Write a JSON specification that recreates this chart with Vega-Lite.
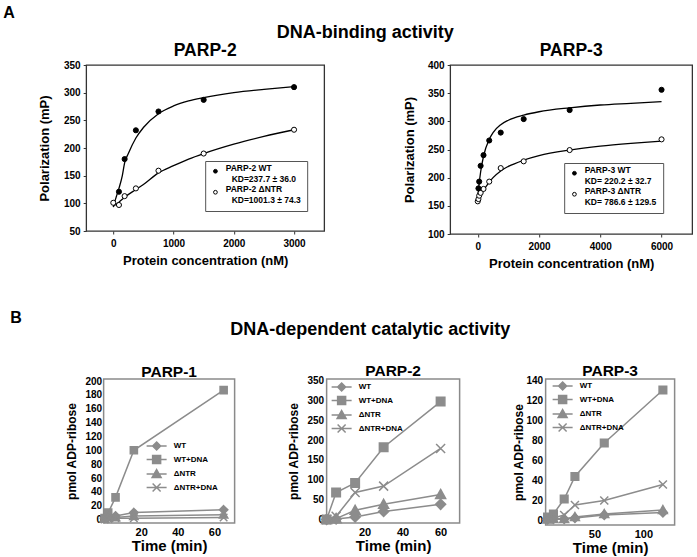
{
 "$schema": "https://vega.github.io/schema/vega-lite/v6.json",
 "padding": {"left": 3, "top": 4, "right": 0, "bottom": 0},
 "background": "white",
 "config": {
  "font": "Liberation Sans",
  "view": {"stroke": "#8a8a8a", "strokeWidth": 1.5},
  "axis": {"grid": false, "ticks": false, "domain": false, "labelOverlap": false, "labelFontWeight": "bold", "labelColor": "black", "titleFontWeight": "bold", "titleColor": "black", "labelFont": "Liberation Sans", "titleFont": "Liberation Sans"},
  "title": {"font": "Liberation Sans", "fontWeight": "bold", "color": "black"},
  "legend": {"labelFont": "Liberation Sans", "labelFontWeight": "bold", "labelColor": "black"}
 },
 "datasets": {
  "p2_pts": [
   {"conc": 0, "mP": 101, "form": "ΔNTR"},
   {"conc": 94, "mP": 97, "form": "ΔNTR"},
   {"conc": 188, "mP": 113, "form": "ΔNTR"},
   {"conc": 375, "mP": 127, "form": "ΔNTR"},
   {"conc": 750, "mP": 159, "form": "ΔNTR"},
   {"conc": 1500, "mP": 190, "form": "ΔNTR"},
   {"conc": 3000, "mP": 233, "form": "ΔNTR"},
   {"conc": 94, "mP": 121, "form": "WT"},
   {"conc": 188, "mP": 180, "form": "WT"},
   {"conc": 375, "mP": 232, "form": "WT"},
   {"conc": 750, "mP": 266, "form": "WT"},
   {"conc": 1500, "mP": 287, "form": "WT"},
   {"conc": 3000, "mP": 310, "form": "WT"}
  ],
  "p2_fit": [
   {"conc": 0, "mP": 93, "form": "WT"},
   {"conc": 25, "mP": 103, "form": "WT"},
   {"conc": 50, "mP": 112, "form": "WT"},
   {"conc": 94, "mP": 127, "form": "WT"},
   {"conc": 150, "mP": 150, "form": "WT"},
   {"conc": 188, "mP": 173, "form": "WT"},
   {"conc": 250, "mP": 190, "form": "WT"},
   {"conc": 375, "mP": 218, "form": "WT"},
   {"conc": 500, "mP": 237, "form": "WT"},
   {"conc": 750, "mP": 262, "form": "WT"},
   {"conc": 1000, "mP": 276, "form": "WT"},
   {"conc": 1250, "mP": 285, "form": "WT"},
   {"conc": 1500, "mP": 291, "form": "WT"},
   {"conc": 2000, "mP": 300, "form": "WT"},
   {"conc": 2500, "mP": 306, "form": "WT"},
   {"conc": 3000, "mP": 311, "form": "WT"},
   {"conc": 0, "mP": 95, "form": "ΔNTR"},
   {"conc": 94, "mP": 102, "form": "ΔNTR"},
   {"conc": 188, "mP": 111, "form": "ΔNTR"},
   {"conc": 375, "mP": 125, "form": "ΔNTR"},
   {"conc": 500, "mP": 134, "form": "ΔNTR"},
   {"conc": 750, "mP": 155, "form": "ΔNTR"},
   {"conc": 1000, "mP": 168, "form": "ΔNTR"},
   {"conc": 1250, "mP": 180, "form": "ΔNTR"},
   {"conc": 1500, "mP": 190, "form": "ΔNTR"},
   {"conc": 2000, "mP": 207, "form": "ΔNTR"},
   {"conc": 2500, "mP": 221, "form": "ΔNTR"},
   {"conc": 3000, "mP": 233, "form": "ΔNTR"}
  ],
  "p3_pts": [
   {"conc": 0, "mP": 158, "form": "ΔNTR"},
   {"conc": 23, "mP": 162, "form": "ΔNTR"},
   {"conc": 47, "mP": 168, "form": "ΔNTR"},
   {"conc": 94, "mP": 173, "form": "ΔNTR"},
   {"conc": 188, "mP": 180, "form": "ΔNTR"},
   {"conc": 375, "mP": 193, "form": "ΔNTR"},
   {"conc": 750, "mP": 217, "form": "ΔNTR"},
   {"conc": 1500, "mP": 229, "form": "ΔNTR"},
   {"conc": 3000, "mP": 249, "form": "ΔNTR"},
   {"conc": 6000, "mP": 268, "form": "ΔNTR"},
   {"conc": 23, "mP": 181, "form": "WT"},
   {"conc": 47, "mP": 193, "form": "WT"},
   {"conc": 94, "mP": 221, "form": "WT"},
   {"conc": 188, "mP": 240, "form": "WT"},
   {"conc": 375, "mP": 266, "form": "WT"},
   {"conc": 750, "mP": 280, "form": "WT"},
   {"conc": 1500, "mP": 304, "form": "WT"},
   {"conc": 3000, "mP": 320, "form": "WT"},
   {"conc": 6000, "mP": 356, "form": "WT"}
  ],
  "p3_fit": [
   {"conc": 0, "mP": 165, "form": "WT"},
   {"conc": 23, "mP": 178, "form": "WT"},
   {"conc": 47, "mP": 190, "form": "WT"},
   {"conc": 94, "mP": 210, "form": "WT"},
   {"conc": 188, "mP": 238, "form": "WT"},
   {"conc": 375, "mP": 268, "form": "WT"},
   {"conc": 500, "mP": 280, "form": "WT"},
   {"conc": 750, "mP": 294, "form": "WT"},
   {"conc": 1000, "mP": 302, "form": "WT"},
   {"conc": 1500, "mP": 311, "form": "WT"},
   {"conc": 2000, "mP": 317, "form": "WT"},
   {"conc": 3000, "mP": 324, "form": "WT"},
   {"conc": 4000, "mP": 329, "form": "WT"},
   {"conc": 5000, "mP": 332, "form": "WT"},
   {"conc": 6000, "mP": 335, "form": "WT"},
   {"conc": 0, "mP": 157, "form": "ΔNTR"},
   {"conc": 47, "mP": 163, "form": "ΔNTR"},
   {"conc": 94, "mP": 168, "form": "ΔNTR"},
   {"conc": 188, "mP": 177, "form": "ΔNTR"},
   {"conc": 375, "mP": 192, "form": "ΔNTR"},
   {"conc": 500, "mP": 200, "form": "ΔNTR"},
   {"conc": 750, "mP": 212, "form": "ΔNTR"},
   {"conc": 1000, "mP": 220, "form": "ΔNTR"},
   {"conc": 1500, "mP": 231, "form": "ΔNTR"},
   {"conc": 2000, "mP": 239, "form": "ΔNTR"},
   {"conc": 3000, "mP": 249, "form": "ΔNTR"},
   {"conc": 4000, "mP": 256, "form": "ΔNTR"},
   {"conc": 5000, "mP": 261, "form": "ΔNTR"},
   {"conc": 6000, "mP": 265, "form": "ΔNTR"}
  ],
  "b1": [
   {"time": 0, "pmol": 2, "cond": "WT"},
   {"time": 2, "pmol": 6, "cond": "WT"},
   {"time": 6, "pmol": 5, "cond": "WT"},
   {"time": 16, "pmol": 10, "cond": "WT"},
   {"time": 65, "pmol": 14, "cond": "WT"},
   {"time": 0, "pmol": 2, "cond": "WT+DNA"},
   {"time": 2, "pmol": 10, "cond": "WT+DNA"},
   {"time": 6, "pmol": 32, "cond": "WT+DNA"},
   {"time": 16, "pmol": 100, "cond": "WT+DNA"},
   {"time": 65, "pmol": 187, "cond": "WT+DNA"},
   {"time": 0, "pmol": 1, "cond": "ΔNTR"},
   {"time": 2, "pmol": 3, "cond": "ΔNTR"},
   {"time": 6, "pmol": 3, "cond": "ΔNTR"},
   {"time": 16, "pmol": 5, "cond": "ΔNTR"},
   {"time": 65, "pmol": 7, "cond": "ΔNTR"},
   {"time": 0, "pmol": 0, "cond": "ΔNTR+DNA"},
   {"time": 2, "pmol": 1, "cond": "ΔNTR+DNA"},
   {"time": 6, "pmol": 2, "cond": "ΔNTR+DNA"},
   {"time": 16, "pmol": 2, "cond": "ΔNTR+DNA"},
   {"time": 65, "pmol": 3, "cond": "ΔNTR+DNA"}
  ],
  "b2": [
   {"time": 0, "pmol": 0, "cond": "WT"},
   {"time": 5, "pmol": 1, "cond": "WT"},
   {"time": 15, "pmol": 6, "cond": "WT"},
   {"time": 30, "pmol": 20, "cond": "WT"},
   {"time": 60, "pmol": 38, "cond": "WT"},
   {"time": 0, "pmol": 0, "cond": "WT+DNA"},
   {"time": 5, "pmol": 68, "cond": "WT+DNA"},
   {"time": 15, "pmol": 92, "cond": "WT+DNA"},
   {"time": 30, "pmol": 182, "cond": "WT+DNA"},
   {"time": 60, "pmol": 297, "cond": "WT+DNA"},
   {"time": 0, "pmol": 0, "cond": "ΔNTR"},
   {"time": 5, "pmol": 2, "cond": "ΔNTR"},
   {"time": 15, "pmol": 23, "cond": "ΔNTR"},
   {"time": 30, "pmol": 38, "cond": "ΔNTR"},
   {"time": 60, "pmol": 63, "cond": "ΔNTR"},
   {"time": 0, "pmol": 0, "cond": "ΔNTR+DNA"},
   {"time": 5, "pmol": 8, "cond": "ΔNTR+DNA"},
   {"time": 15, "pmol": 68, "cond": "ΔNTR+DNA"},
   {"time": 30, "pmol": 84, "cond": "ΔNTR+DNA"},
   {"time": 60, "pmol": 179, "cond": "ΔNTR+DNA"}
  ],
  "b3": [
   {"time": 2, "pmol": 0.5, "cond": "WT"},
   {"time": 8, "pmol": 1, "cond": "WT"},
   {"time": 19, "pmol": 1, "cond": "WT"},
   {"time": 30, "pmol": 2, "cond": "WT"},
   {"time": 60, "pmol": 5, "cond": "WT"},
   {"time": 120, "pmol": 7.5, "cond": "WT"},
   {"time": 2, "pmol": 3, "cond": "WT+DNA"},
   {"time": 8, "pmol": 6, "cond": "WT+DNA"},
   {"time": 19, "pmol": 21, "cond": "WT+DNA"},
   {"time": 30, "pmol": 43.5, "cond": "WT+DNA"},
   {"time": 60, "pmol": 77, "cond": "WT+DNA"},
   {"time": 120, "pmol": 130, "cond": "WT+DNA"},
   {"time": 2, "pmol": 0.5, "cond": "ΔNTR"},
   {"time": 8, "pmol": 1, "cond": "ΔNTR"},
   {"time": 19, "pmol": 1, "cond": "ΔNTR"},
   {"time": 30, "pmol": 3, "cond": "ΔNTR"},
   {"time": 60, "pmol": 6, "cond": "ΔNTR"},
   {"time": 120, "pmol": 10, "cond": "ΔNTR"},
   {"time": 2, "pmol": 1, "cond": "ΔNTR+DNA"},
   {"time": 8, "pmol": 2, "cond": "ΔNTR+DNA"},
   {"time": 19, "pmol": 5, "cond": "ΔNTR+DNA"},
   {"time": 30, "pmol": 15, "cond": "ΔNTR+DNA"},
   {"time": 60, "pmol": 19.5, "cond": "ΔNTR+DNA"},
   {"time": 120, "pmol": 35.5, "cond": "ΔNTR+DNA"}
  ]
 },
 "spacing": 38,
 "center": true,
 "vconcat": [
  {
   "title": {"text": "A", "anchor": "start", "fontSize": 16, "dx": -34.5, "offset": 3},
   "vconcat": [
    {
     "title": {"text": "DNA-binding activity", "anchor": "middle", "fontSize": 18, "offset": -1},
     "spacing": 77,
     "resolve": {"scale": {"x": "independent", "y": "independent", "fill": "independent"}, "legend": {"fill": "independent"}},
     "hconcat": [
      {
       "width": 238, "height": 166,
       "view": {"stroke": "#333333", "strokeWidth": 1.3},
       "title": {"text": "PARP-2", "fontSize": 17.5, "offset": 1},
       "encoding": {
        "x": {"field": "conc", "type": "quantitative", "scale": {"domain": [-450, 3500], "nice": false, "zero": false}, "axis": {"values": [0, 1000, 2000, 3000], "format": "d", "labelOverlap": false, "ticks": true, "tickSize": 3, "tickColor": "#333333", "title": "Protein concentration (nM)", "labelFontSize": 10, "titleFontSize": 13, "labelPadding": 4, "titlePadding": 6}},
        "y": {"field": "mP", "type": "quantitative", "scale": {"domain": [50, 350], "nice": false, "zero": false}, "axis": {"values": [50, 100, 150, 200, 250, 300, 350], "labelOverlap": false, "ticks": true, "tickSize": 3, "tickColor": "#333333", "title": "Polarization (mP)", "labelFontSize": 10, "titleFontSize": 13, "labelPadding": 3, "titlePadding": 12}}
       },
       "layer": [
        {
         "data": {"name": "p2_fit"},
         "mark": {"type": "line", "color": "black", "strokeWidth": 1.3, "interpolate": "monotone"},
         "encoding": {"detail": {"field": "form", "type": "nominal"}}
        },
        {
         "data": {"name": "p2_pts"},
         "mark": {"type": "point", "shape": "circle", "filled": true, "stroke": "black", "strokeWidth": 1, "size": 26, "opacity": 1},
         "encoding": {
          "fill": {"field": "form", "type": "nominal", "scale": {"domain": ["WT", "ΔNTR"], "range": ["black", "white"]},
           "legend": {"title": null, "orient": "none", "legendX": 119, "legendY": 96, "padding": 6, "strokeColor": "#555555", "fillColor": "white", "symbolSize": 14, "symbolStrokeColor": "black", "symbolStrokeWidth": 1, "labelFontSize": 8.5, "labelOffset": 6, "rowPadding": 1, "labelBaseline": "alphabetic",
            "labelExpr": "datum.label == 'WT' ? ['PARP-2 WT', '\u200b\u2002\u2009KD=237.7 ± 36.0'] : ['PARP-2 ΔNTR', '\u200b\u2002\u2009KD=1001.3 ± 74.3']"}}
         }
        }
       ]
      },
      {
       "width": 242, "height": 169,
       "view": {"stroke": "#333333", "strokeWidth": 1.3},
       "title": {"text": "PARP-3", "fontSize": 17.5, "offset": 1},
       "encoding": {
        "x": {"field": "conc", "type": "quantitative", "scale": {"domain": [-900, 7000], "nice": false, "zero": false}, "axis": {"values": [0, 2000, 4000, 6000], "format": "d", "labelOverlap": false, "ticks": true, "tickSize": 3, "tickColor": "#333333", "title": "Protein concentration (nM)", "labelFontSize": 10, "titleFontSize": 13, "labelPadding": 4, "titlePadding": 6}},
        "y": {"field": "mP", "type": "quantitative", "scale": {"domain": [100, 400], "nice": false, "zero": false}, "axis": {"values": [100, 150, 200, 250, 300, 350, 400], "labelOverlap": false, "ticks": true, "tickSize": 3, "tickColor": "#333333", "title": "Polarization (mP)", "labelFontSize": 10, "titleFontSize": 13, "labelPadding": 3, "titlePadding": 11}}
       },
       "layer": [
        {
         "data": {"name": "p3_fit"},
         "mark": {"type": "line", "color": "black", "strokeWidth": 1.3, "interpolate": "monotone"},
         "encoding": {"detail": {"field": "form", "type": "nominal"}}
        },
        {
         "data": {"name": "p3_pts"},
         "mark": {"type": "point", "shape": "circle", "filled": true, "stroke": "black", "strokeWidth": 1, "size": 26, "opacity": 1},
         "encoding": {
          "fill": {"field": "form", "type": "nominal", "scale": {"domain": ["WT", "ΔNTR"], "range": ["black", "white"]},
           "legend": {"title": null, "orient": "none", "legendX": 114, "legendY": 98, "padding": 6, "strokeColor": "#555555", "fillColor": "white", "symbolSize": 14, "symbolStrokeColor": "black", "symbolStrokeWidth": 1, "labelFontSize": 8.5, "labelOffset": 6, "rowPadding": 1, "labelBaseline": "alphabetic",
            "labelExpr": "datum.label == 'WT' ? ['PARP-3 WT', 'KD= 220.2 ± 32.7'] : ['PARP-3 ΔNTR', 'KD= 786.6 ± 129.5']"}}
         }
        }
       ]
      }
     ]
    }
   ]
  },
  {
   "title": {"text": "B", "anchor": "start", "fontSize": 16, "dx": -55, "dy": 5, "offset": 0},
   "vconcat": [
    {
     "title": {"text": "DNA-dependent catalytic activity", "anchor": "middle", "fontSize": 18, "offset": 24},
     "spacing": 51,
     "resolve": {"scale": {"x": "independent", "y": "independent", "shape": "independent"}, "legend": {"shape": "independent"}},
     "hconcat": [
      {
       "width": 131, "height": 144,
       "title": {"text": "PARP-1", "fontSize": 15.5, "offset": -4},
       "data": {"name": "b1"},
       "resolve": {"scale": {"shape": "independent"}, "legend": {"shape": "independent"}},
       "encoding": {
        "x": {"field": "time", "type": "quantitative", "scale": {"domain": [-0.5, 71], "nice": false, "zero": false}, "axis": {"values": [20, 40, 60], "title": "Time (min)", "labelFontSize": 11, "titleFontSize": 15, "labelPadding": 3, "titlePadding": 1}},
        "y": {"field": "pmol", "type": "quantitative", "scale": {"domain": [-5, 203], "nice": false, "zero": false}, "axis": {"values": [0, 20, 40, 60, 80, 100, 120, 140, 160, 180, 200], "title": "pmol ADP-ribose", "labelFontSize": 10, "titleFontSize": 12, "labelPadding": 2, "titlePadding": 6}}
       },
       "layer": [
        {"mark": {"type": "line", "color": "#8c8c8c", "strokeWidth": 1.5}, "encoding": {"detail": {"field": "cond", "type": "nominal"}}},
        {"mark": {"type": "point", "filled": true, "fill": "#8c8c8c", "stroke": "#8c8c8c", "strokeWidth": 1.5, "size": 70, "opacity": 1},
         "encoding": {"shape": {"field": "cond", "type": "nominal", "scale": {"domain": ["WT", "WT+DNA", "ΔNTR", "ΔNTR+DNA"], "range": ["M0,-1L1,0L0,1L-1,0Z", "M-0.85,-0.85H0.85V0.85H-0.85Z", "M0,-1L1,0.8H-1Z", "M-0.9,-0.9L0.9,0.9M-0.9,0.9L0.9,-0.9"]}, "legend": null}}},
        {"transform": [{"filter": "datum.time < -1000"}],
         "mark": {"type": "point", "filled": true, "fill": "#8c8c8c", "stroke": "#8c8c8c", "strokeWidth": 1.5, "size": 100, "opacity": 1},
         "encoding": {"shape": {"field": "cond", "type": "nominal", "scale": {"domain": ["WT", "WT+DNA", "ΔNTR", "ΔNTR+DNA"], "range": ["M-2,0H2M0,-0.8L0.8,0L0,0.8L-0.8,0Z", "M-2,0H2M-0.8,-0.8H0.8V0.8H-0.8Z", "M-2,0H2M0,-0.9L0.9,0.7H-0.9Z", "M-2,0H2M-0.8,-0.8L0.8,0.8M-0.8,0.8L0.8,-0.8"]},
          "legend": {"title": null, "orient": "none", "legendX": 47, "legendY": 61, "padding": 0, "symbolSize": 100, "symbolStrokeWidth": 1.5, "labelFontSize": 8, "labelOffset": 11, "rowPadding": -0.5,
           "encode": {"symbols": {"update": {"stroke": {"value": "#8c8c8c"}, "fill": {"value": "#8c8c8c"}, "strokeWidth": {"value": 1.5}, "opacity": {"value": 1}}}}}}}}
       ]
      },
      {
       "width": 133, "height": 144,
       "title": {"text": "PARP-2", "fontSize": 15.5, "offset": -4},
       "data": {"name": "b2"},
       "resolve": {"scale": {"shape": "independent"}, "legend": {"shape": "independent"}},
       "encoding": {
        "x": {"field": "time", "type": "quantitative", "scale": {"domain": [0, 70], "nice": false, "zero": false}, "axis": {"values": [20, 40, 60], "title": "Time (min)", "labelFontSize": 11, "titleFontSize": 15, "labelPadding": 3, "titlePadding": 1}},
        "y": {"field": "pmol", "type": "quantitative", "scale": {"domain": [-9, 354], "nice": false, "zero": false}, "axis": {"values": [0, 50, 100, 150, 200, 250, 300, 350], "title": "pmol ADP-ribose", "labelFontSize": 10, "titleFontSize": 12, "labelPadding": 3, "titlePadding": 6}}
       },
       "layer": [
        {"mark": {"type": "line", "color": "#8c8c8c", "strokeWidth": 1.5}, "encoding": {"detail": {"field": "cond", "type": "nominal"}}},
        {"mark": {"type": "point", "filled": true, "fill": "#8c8c8c", "stroke": "#8c8c8c", "strokeWidth": 1.5, "size": 100, "opacity": 1},
         "encoding": {"shape": {"field": "cond", "type": "nominal", "scale": {"domain": ["WT", "WT+DNA", "ΔNTR", "ΔNTR+DNA"], "range": ["M0,-1L1,0L0,1L-1,0Z", "M-0.85,-0.85H0.85V0.85H-0.85Z", "M0,-1L1,0.8H-1Z", "M-0.9,-0.9L0.9,0.9M-0.9,0.9L0.9,-0.9"]}, "legend": null}}},
        {"transform": [{"filter": "datum.time < -1000"}],
         "mark": {"type": "point", "filled": true, "fill": "#8c8c8c", "stroke": "#8c8c8c", "strokeWidth": 1.5, "size": 100, "opacity": 1},
         "encoding": {"shape": {"field": "cond", "type": "nominal", "scale": {"domain": ["WT", "WT+DNA", "ΔNTR", "ΔNTR+DNA"], "range": ["M-2,0H2M0,-0.8L0.8,0L0,0.8L-0.8,0Z", "M-2,0H2M-0.8,-0.8H0.8V0.8H-0.8Z", "M-2,0H2M0,-0.9L0.9,0.7H-0.9Z", "M-2,0H2M-0.8,-0.8L0.8,0.8M-0.8,0.8L0.8,-0.8"]},
          "legend": {"title": null, "orient": "none", "legendX": 9, "legendY": 2, "padding": 0, "symbolSize": 100, "symbolStrokeWidth": 1.5, "labelFontSize": 8, "labelOffset": 11, "rowPadding": -0.5,
           "encode": {"symbols": {"update": {"stroke": {"value": "#8c8c8c"}, "fill": {"value": "#8c8c8c"}, "strokeWidth": {"value": 1.5}, "opacity": {"value": 1}}}}}}}}
       ]
      },
      {
       "width": 129, "height": 146,
       "title": {"text": "PARP-3", "fontSize": 15.5, "offset": -4},
       "data": {"name": "b3"},
       "resolve": {"scale": {"shape": "independent"}, "legend": {"shape": "independent"}},
       "encoding": {
        "x": {"field": "time", "type": "quantitative", "scale": {"domain": [0, 132], "nice": false, "zero": false}, "axis": {"values": [50, 100], "title": "Time (min)", "labelFontSize": 11, "titleFontSize": 15, "labelPadding": 3, "titlePadding": 1}},
        "y": {"field": "pmol", "type": "quantitative", "scale": {"domain": [-5, 141], "nice": false, "zero": false}, "axis": {"values": [0, 20, 40, 60, 80, 100, 120, 140], "title": "pmol ADP-ribose", "labelFontSize": 10, "titleFontSize": 12, "labelPadding": 3, "titlePadding": 0}}
       },
       "layer": [
        {"mark": {"type": "line", "color": "#8c8c8c", "strokeWidth": 1.5}, "encoding": {"detail": {"field": "cond", "type": "nominal"}}},
        {"mark": {"type": "point", "filled": true, "fill": "#8c8c8c", "stroke": "#8c8c8c", "strokeWidth": 1.5, "size": 80, "opacity": 1},
         "encoding": {"shape": {"field": "cond", "type": "nominal", "scale": {"domain": ["WT", "WT+DNA", "ΔNTR", "ΔNTR+DNA"], "range": ["M0,-1L1,0L0,1L-1,0Z", "M-0.85,-0.85H0.85V0.85H-0.85Z", "M0,-1L1,0.8H-1Z", "M-0.9,-0.9L0.9,0.9M-0.9,0.9L0.9,-0.9"]}, "legend": null}}},
        {"transform": [{"filter": "datum.time < -1000"}],
         "mark": {"type": "point", "filled": true, "fill": "#8c8c8c", "stroke": "#8c8c8c", "strokeWidth": 1.5, "size": 100, "opacity": 1},
         "encoding": {"shape": {"field": "cond", "type": "nominal", "scale": {"domain": ["WT", "WT+DNA", "ΔNTR", "ΔNTR+DNA"], "range": ["M-2,0H2M0,-0.8L0.8,0L0,0.8L-0.8,0Z", "M-2,0H2M-0.8,-0.8H0.8V0.8H-0.8Z", "M-2,0H2M0,-0.9L0.9,0.7H-0.9Z", "M-2,0H2M-0.8,-0.8L0.8,0.8M-0.8,0.8L0.8,-0.8"]},
          "legend": {"title": null, "orient": "none", "legendX": 11, "legendY": 1, "padding": 0, "symbolSize": 100, "symbolStrokeWidth": 1.5, "labelFontSize": 8, "labelOffset": 11, "rowPadding": -0.5,
           "encode": {"symbols": {"update": {"stroke": {"value": "#8c8c8c"}, "fill": {"value": "#8c8c8c"}, "strokeWidth": {"value": 1.5}, "opacity": {"value": 1}}}}}}}}
       ]
      }
     ]
    }
   ]
  }
 ]
}
